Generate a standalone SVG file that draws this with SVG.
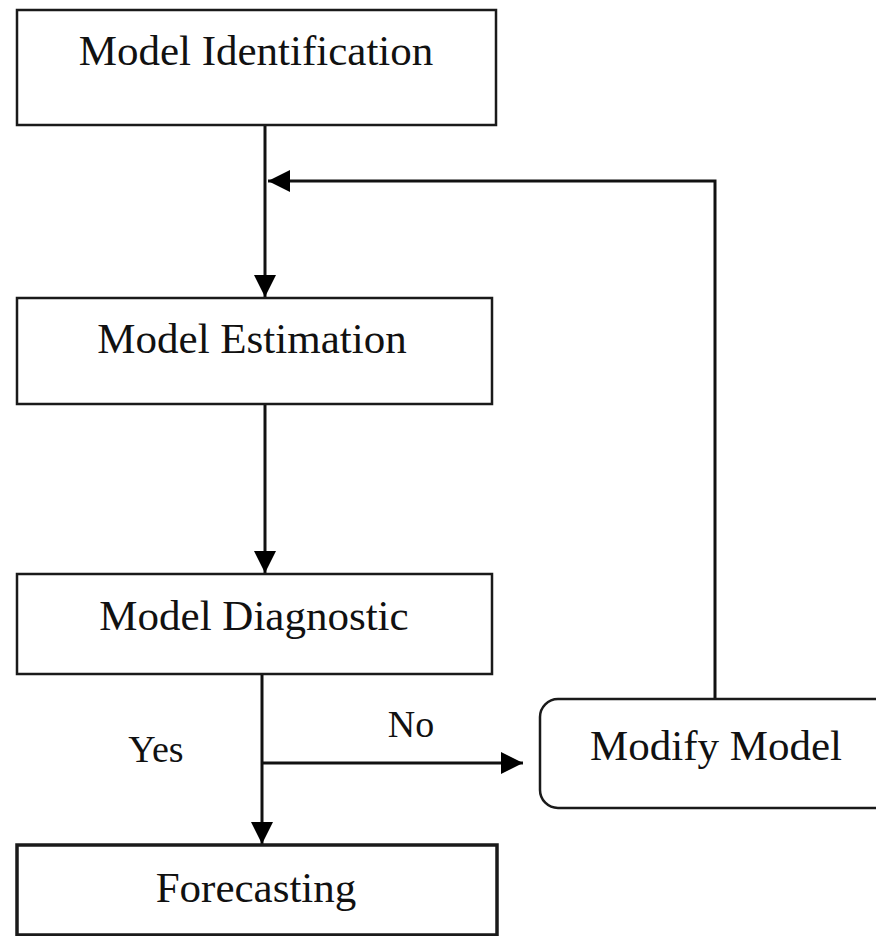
<svg xmlns="http://www.w3.org/2000/svg" width="876" height="936" viewBox="0 0 876 936">
<style>
  .box { fill: #ffffff; stroke: #1a1a1a; stroke-width: 2.5; }
  .lbl { font-family: "Liberation Serif", "Times New Roman", serif; font-size: 43px; fill: #111111; text-anchor: middle; }
  .edge { font-family: "Liberation Serif", "Times New Roman", serif; font-size: 38px; fill: #111111; text-anchor: middle; }
  .conn { fill: none; stroke: #111111; stroke-width: 3; }
</style>
<defs>
  <marker id="arrow" markerUnits="userSpaceOnUse" markerWidth="22" markerHeight="22" refX="22" refY="11" orient="auto">
    <path d="M0,0 L22,11 L0,22 Z" fill="#000000"/>
  </marker>
</defs>
<rect width="876" height="936" fill="#ffffff"/>
<g id="connectors">
  <path class="conn" d="M265,125 V297" marker-end="url(#arrow)"/>
  <path class="conn" d="M715,699 V181 H268" marker-end="url(#arrow)"/>
  <path class="conn" d="M265,404 V573" marker-end="url(#arrow)"/>
  <path class="conn" d="M262,674 V844" marker-end="url(#arrow)"/>
  <path class="conn" d="M262,763 H523" marker-end="url(#arrow)"/>
  <text class="edge" x="156" y="762">Yes</text>
  <text class="edge" x="411" y="737">No</text>
</g>
<g id="model-identification">
  <rect class="box" x="17" y="10" width="479" height="115"/>
  <text class="lbl" x="256" y="65">Model Identification</text>
</g>
<g id="model-estimation">
  <rect class="box" x="17" y="298" width="475" height="106"/>
  <text class="lbl" x="252" y="353">Model Estimation</text>
</g>
<g id="model-diagnostic">
  <rect class="box" x="17" y="574" width="475" height="100"/>
  <text class="lbl" x="254" y="630">Model Diagnostic</text>
</g>
<g id="forecasting">
  <rect class="box" x="17" y="845" width="480" height="90" style="stroke-width:3.5"/>
  <text class="lbl" x="256" y="902">Forecasting</text>
</g>
<g id="modify-model">
  <rect class="box" x="540" y="699" width="360" height="109" rx="18" ry="18"/>
  <text class="lbl" x="716" y="760">Modify Model</text>
</g>
</svg>
